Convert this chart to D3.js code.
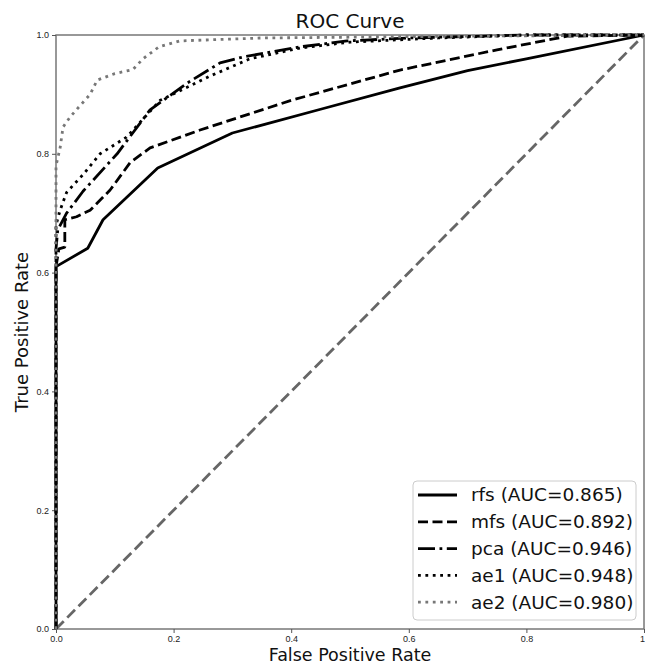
<html lang="en">

<head>
    <meta charset="UTF-8">
    <title>ROC Curve</title>
    <script src="https://d3js.org/d3.v7.min.js"></script>
    <style>
        body { margin: 0; background: #fff; overflow: hidden; }
        svg { font-family: "DejaVu Sans", sans-serif; display: block; }
        .tick text { font-size: 9px; fill: #222; }
        .tick line { stroke: #555; }
        .domain { stroke: none; }
        .curve { fill: none; stroke-width: 2.8; stroke-linejoin: round; }
    </style>
</head>

<body>
    <svg width="645" height="664"></svg>
    <script>
        // curve data: [fpr, tpr]
        var rfs = [[0,0],[0,0.61],[0.054,0.641],[0.08,0.689],[0.173,0.776],[0.30,0.835],[0.45,0.875],[0.585,0.911],[0.7,0.94],[0.8,0.96],[1,1]];
        var mfs = [[0,0],[0,0.61],[0.005,0.64],[0.015,0.643],[0.015,0.689],[0.035,0.694],[0.058,0.705],[0.092,0.739],[0.126,0.785],[0.16,0.81],[0.245,0.84],[0.4,0.89],[0.585,0.941],[0.75,0.975],[0.87,0.998],[1,1]];
        var pca = [[0,0],[0,0.64],[0.003,0.672],[0.018,0.70],[0.046,0.737],[0.104,0.80],[0.16,0.874],[0.223,0.919],[0.279,0.953],[0.318,0.963],[0.415,0.98],[0.495,0.99],[0.6,0.995],[0.8,1],[1,1]];
        var ae1 = [[0,0],[0,0.68],[0.007,0.705],[0.018,0.735],[0.046,0.765],[0.075,0.80],[0.12,0.828],[0.177,0.89],[0.223,0.912],[0.26,0.93],[0.33,0.96],[0.415,0.978],[0.5,0.988],[0.65,0.995],[0.8,1],[1,1]];
        var ae2 = [[0,0],[0,0.78],[0.007,0.81],[0.012,0.845],[0.024,0.862],[0.04,0.88],[0.058,0.90],[0.07,0.924],[0.10,0.935],[0.131,0.942],[0.148,0.96],[0.175,0.98],[0.21,0.99],[0.35,0.995],[0.7,0.998],[1,1]];

        var names = ["rfs", "mfs", "pca", "ae1", "ae2"];
        var aucs = ["0.865", "0.892", "0.946", "0.948", "0.980"];
        var xTicks = ["0.0", "0.2", "0.4", "0.6", "0.8", "1"];
        var yTicks = ["0.0", "0.2", "0.4", "0.6", "0.8", "1.0"];

        var curves = [rfs, mfs, pca, ae1, ae2];
        var styles = [
            { color: "#000", dash: null },
            { color: "#000", dash: "10,4.5" },
            { color: "#000", dash: "17,4.5,2.8,4.5" },
            { color: "#000", dash: "2.8,4.6" },
            { color: "#777", dash: "2.8,4.6" }
        ];

        var svg = d3.select("svg"),
            plotLeft = 56, plotTop = 35, plotRight = 644, plotBottom = 629;

        var xScale = d3.scaleLinear().domain([0, 1]).range([plotLeft, plotRight]),
            yScale = d3.scaleLinear().domain([0, 1]).range([plotBottom, plotTop]);

        // frame
        svg.append("rect")
            .attr("x", plotLeft).attr("y", plotTop)
            .attr("width", plotRight - plotLeft).attr("height", plotBottom - plotTop)
            .attr("fill", "none").attr("stroke", "#777").attr("stroke-width", 1.5);

        var xAxis = svg.append("g")
            .attr("transform", "translate(0," + plotBottom + ")")
            .call(d3.axisBottom(xScale).tickValues(xTicks.map(Number)).tickFormat(function (d, i) { return xTicks[i]; }).tickSize(4).tickPadding(3));
        // last label sits on the window edge, nudge it in a little
        xAxis.selectAll(".tick:last-of-type text").attr("dx", "-2");

        svg.append("g")
            .attr("transform", "translate(" + plotLeft + ",0)")
            .call(d3.axisLeft(yScale).tickValues(yTicks.map(Number)).tickFormat(function (d, i) { return yTicks[i]; }).tickSize(4).tickPadding(3));

        var line = d3.line()
            .x(function (d) { return xScale(d[0]); })
            .y(function (d) { return yScale(d[1]); });

        // chance line
        svg.append("path")
            .datum([[0, 0], [1, 1]])
            .attr("class", "curve")
            .attr("d", line)
            .attr("stroke", "#666")
            .attr("stroke-width", 3.2)
            .attr("stroke-dasharray", "11,5");

        svg.selectAll(".roc")
            .data(curves)
            .enter().append("path")
            .attr("class", "curve roc")
            .attr("d", line)
            .attr("stroke", function (d, i) { return styles[i].color; })
            .attr("stroke-dasharray", function (d, i) { return styles[i].dash; });

        // titles
        svg.append("text")
            .attr("x", (plotLeft + plotRight) / 2).attr("y", 28)
            .attr("text-anchor", "middle")
            .style("font-size", "20px").style("fill", "#111")
            .text("ROC Curve");

        svg.append("text")
            .attr("x", (plotLeft + plotRight) / 2).attr("y", 661)
            .attr("text-anchor", "middle")
            .style("font-size", "17.5px").style("fill", "#111")
            .text("False Positive Rate");

        svg.append("text")
            .attr("transform", "translate(28," + (plotTop + plotBottom) / 2 + ") rotate(-90)")
            .attr("text-anchor", "middle")
            .style("font-size", "18px").style("fill", "#111")
            .text("True Positive Rate");

        // legend
        var legend = svg.append("g").attr("transform", "translate(413,481)");
        legend.append("rect")
            .attr("width", 223).attr("height", 139)
            .attr("rx", 4)
            .attr("fill", "#fff").attr("fill-opacity", 0.8)
            .attr("stroke", "#ccc");

        var rows = legend.selectAll(".row")
            .data(names)
            .enter().append("g")
            .attr("transform", function (d, i) { return "translate(0," + (14 + i * 26.8) + ")"; });

        rows.append("line")
            .attr("x1", 5).attr("x2", 44)
            .attr("stroke-width", 2.8)
            .attr("stroke", function (d, i) { return styles[i].color; })
            .attr("stroke-dasharray", function (d, i) { return styles[i].dash; });

        rows.append("text")
            .attr("x", 58).attr("dy", "0.35em")
            .style("font-size", "18.5px").style("fill", "#111")
            .text(function (d, i) { return d + " (AUC=" + aucs[i] + ")"; });
    </script>
</body>

</html>
